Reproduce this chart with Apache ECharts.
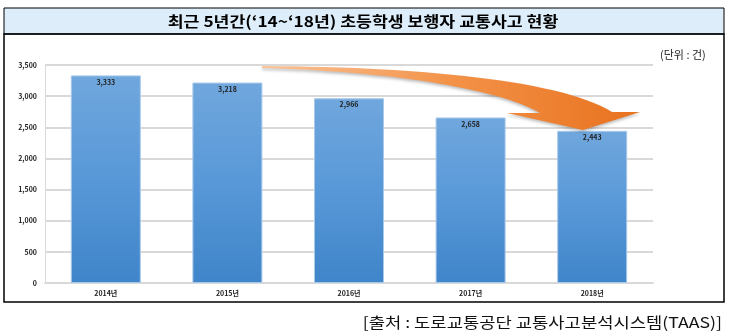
<!DOCTYPE html>
<html><head><meta charset="utf-8">
<script src="https://cdn.jsdelivr.net/npm/echarts@6/dist/echarts.min.js"></script>
<style>html,body{margin:0;padding:0;background:#fff}#c{width:730px;height:336px}</style>
</head><body><div id="c"></div>
<script>
const categories = ['2014년','2015년','2016년','2017년','2018년'];
const accidents = [3333, 3218, 2966, 2658, 2443];
const yTicks = [0, 500, 1000, 1500, 2000, 2500, 3000, 3500];
const titleText = '최근 5년간(‘14~‘18년) 초등학생 보행자 교통사고 현황';
const unitText = '(단위 : 건)';
const sourceText = '[출처 : 도로교통공단 교통사고분석시스템(TAAS)]';

function bez(p0, p1, p2, p3, n) {
  const pts = [];
  for (let i = 0; i <= n; i++) {
    const t = i / n, u = 1 - t;
    pts.push([
      u*u*u*p0[0] + 3*u*u*t*p1[0] + 3*u*t*t*p2[0] + t*t*t*p3[0],
      u*u*u*p0[1] + 3*u*u*t*p1[1] + 3*u*t*t*p2[1] + t*t*t*p3[1]
    ]);
  }
  return pts;
}
const arrowPts = [].concat(
  bez([262,66],[420,67],[560,80],[612,112], 30),
  [[640,112],[583,130],[507,113],[540,113]],
  bez([540,113],[500,90],[400,72],[262,68], 30)
);

const chart = echarts.init(document.getElementById('c'));
const fontKR = '"Noto Sans CJK KR", "Noto Sans", sans-serif';
chart.setOption({
  animation: false,
  textStyle: {fontFamily: fontKR},
  grid: {left: 45, right: 77, top: 65, bottom: 53},
  xAxis: {
    type: 'category', data: categories,
    axisLine: {show: true, lineStyle: {color: '#d9d9d9', width: 2}},
    axisTick: {show: false},
    axisLabel: {fontSize: 7, fontWeight: 'bold', color: '#222', margin: 7}
  },
  yAxis: {
    type: 'value', min: yTicks[0], max: yTicks[yTicks.length-1], interval: 500,
    axisLine: {show: true, lineStyle: {color: '#d9d9d9', width: 1}},
    axisTick: {show: false},
    splitLine: {lineStyle: {color: '#d9d9d9', width: 2}},
    axisLabel: {fontSize: 7, fontWeight: 'bold', color: '#222', margin: 8,
      formatter: v => v.toLocaleString('en-US')}
  },
  series: [{
    type: 'bar', data: accidents, barWidth: 70,
    itemStyle: {
      color: new echarts.graphic.LinearGradient(0,0,0,1,[
        {offset: 0, color: '#70a7dd'}, {offset: 0.5, color: '#5898d8'}, {offset: 1, color: '#3f85c9'}]),
      borderColor: '#a9c9ea', borderWidth: 1
    },
    label: {show: true, position: 'insideTop', distance: 3, fontSize: 7, fontWeight: 'bold', color: '#222',
      formatter: p => p.value.toLocaleString('en-US')}
  }],
  graphic: [
    {type: 'rect', z: -10, shape: {x: 4, y: 8, width: 720, height: 26}, style: {fill: '#ddeefa', stroke: '#000', lineWidth: 1}},
    {type: 'rect', z: -10, shape: {x: 4, y: 34, width: 720, height: 268}, style: {fill: 'none', stroke: '#000', lineWidth: 1.5}},
    {type: 'text', x: 363, y: 21, scaleX: 1.15, style: {text: titleText, fontSize: 15, fontWeight: 'bold', fill: '#000', fontFamily: fontKR, align: 'center', verticalAlign: 'middle'}},
    {type: 'text', x: 660, y: 55, style: {text: unitText, fontSize: 11, fill: '#222', fontFamily: fontKR, verticalAlign: 'middle'}},
    {type: 'text', x: 722, y: 322, scaleX: 1.18, style: {text: sourceText, fontSize: 15, fill: '#111', fontFamily: fontKR, align: 'right', verticalAlign: 'middle'}},
    {type: 'polygon', z: 100,
      shape: {points: arrowPts},
      style: {fill: new echarts.graphic.LinearGradient(0,0,1,0,[{offset:0,color:'#f9c49a'},{offset:0.5,color:'#f39248'},{offset:1,color:'#e8721e'}]),
        shadowColor: 'rgba(0,0,0,0.25)', shadowBlur: 3, shadowOffsetY: 2}}
  ]
});
</script></body></html>
